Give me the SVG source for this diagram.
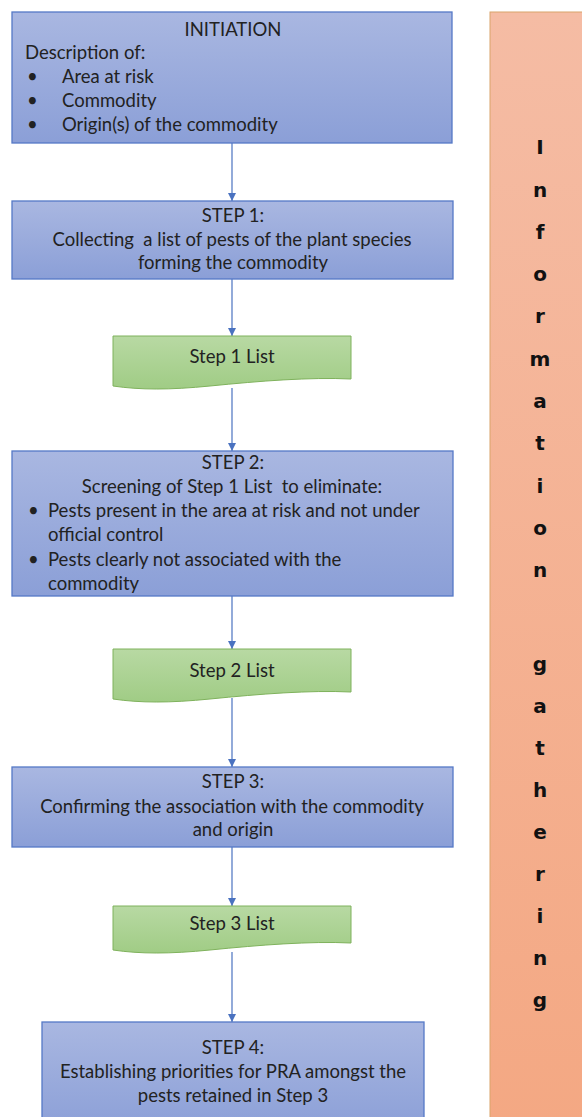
<svg xmlns="http://www.w3.org/2000/svg" width="582" height="1117" viewBox="0 0 582 1117">
<defs>
<linearGradient id="gBlue" x1="0" y1="0" x2="0" y2="1"><stop offset="0" stop-color="#a9b7e1"/><stop offset="1" stop-color="#8b9fd7"/></linearGradient>
<linearGradient id="gGreen" x1="0" y1="0" x2="0" y2="1"><stop offset="0" stop-color="#b8d9a3"/><stop offset="1" stop-color="#a0cc85"/></linearGradient>
<linearGradient id="gOrange" x1="0" y1="0" x2="0" y2="1"><stop offset="0" stop-color="#f5bca4"/><stop offset="1" stop-color="#f4a883"/></linearGradient>
<marker id="arr" viewBox="0 0 10 10" refX="10" refY="5" markerWidth="8" markerHeight="8" markerUnits="userSpaceOnUse" orient="auto"><path d="M0,0 L10,5 L0,10 Z" fill="#4a72c0"/></marker>
</defs>
<style>
.box{fill:url(#gBlue);stroke:#5579c6;stroke-width:1.3}
.doc{fill:url(#gGreen);stroke:#7fb25c;stroke-width:1}
.t{font-family:Lato,"Liberation Sans",sans-serif;font-size:18.5px;fill:#222}
.c{text-anchor:middle}
.v{font-family:"DejaVu Sans",sans-serif;font-weight:bold;font-size:20px;fill:#111;text-anchor:middle}
.con{stroke:#4a72c0;stroke-width:1.2;fill:none;marker-end:url(#arr)}
</style>
<rect width="582" height="1117" fill="#ffffff"/>
<g id="panel">
<rect x="490" y="12" width="100" height="1115" fill="url(#gOrange)" stroke="#d9a46a" stroke-width="1"/>
<text class="v" x="540" y="154">I</text>
<text class="v" x="540" y="197">n</text>
<text class="v" x="540" y="239">f</text>
<text class="v" x="540" y="281">o</text>
<text class="v" x="540" y="323">r</text>
<text class="v" x="540" y="366">m</text>
<text class="v" x="540" y="408">a</text>
<text class="v" x="540" y="450">t</text>
<text class="v" x="540" y="493">i</text>
<text class="v" x="540" y="535">o</text>
<text class="v" x="540" y="577">n</text>
<text class="v" x="540" y="671">g</text>
<text class="v" x="540" y="713">a</text>
<text class="v" x="540" y="755">t</text>
<text class="v" x="540" y="797">h</text>
<text class="v" x="540" y="839">e</text>
<text class="v" x="540" y="881">r</text>
<text class="v" x="540" y="923">i</text>
<text class="v" x="540" y="965">n</text>
<text class="v" x="540" y="1007">g</text>
</g>
<g id="connectors">
<line class="con" x1="232" y1="143" x2="232" y2="201"/>
<line class="con" x1="232" y1="279" x2="232" y2="336"/>
<line class="con" x1="232" y1="388" x2="232" y2="451"/>
<line class="con" x1="232" y1="596" x2="232" y2="649"/>
<line class="con" x1="232" y1="698" x2="232" y2="767"/>
<line class="con" x1="232" y1="847" x2="232" y2="906"/>
<line class="con" x1="232" y1="952" x2="232" y2="1022"/>
</g>
<g id="initiation">
<rect class="box" x="12" y="12" width="440" height="131"/>
<text class="t c" x="233" y="36">INITIATION</text>
<text class="t" x="25" y="59">Description of:</text>
<text class="t" x="27" y="83">•</text><text class="t" x="62" y="83">Area at risk</text>
<text class="t" x="27" y="107">•</text><text class="t" x="62" y="107">Commodity</text>
<text class="t" x="27" y="131">•</text><text class="t" x="62" y="131">Origin(s) of the commodity</text>
</g>
<g id="step1">
<rect class="box" x="12" y="201" width="441" height="78"/>
<text class="t c" x="233" y="222">STEP 1:</text>
<text class="t c" x="232" y="246" xml:space="preserve">Collecting  a list of pests of the plant species</text>
<text class="t c" x="233" y="269">forming the commodity</text>
</g>
<g id="step1list">
<path class="doc" d="M113,336 H351 V379 C310,377 260,381 210,386 C170,390 140,390 113,386 Z"/>
<text class="t c" x="232" y="363">Step 1 List</text>
</g>
<g id="step2">
<rect class="box" x="12" y="451" width="441" height="145"/>
<text class="t c" x="233" y="469">STEP 2:</text>
<text class="t c" x="232" y="493" xml:space="preserve">Screening of Step 1 List  to eliminate:</text>
<text class="t" x="28" y="517">•</text><text class="t" x="48" y="517">Pests present in the area at risk and not under</text>
<text class="t" x="48" y="541">official control</text>
<text class="t" x="28" y="566">•</text><text class="t" x="48" y="566">Pests clearly not associated with the</text>
<text class="t" x="48" y="590">commodity</text>
</g>
<g id="step2list">
<path class="doc" d="M113,649 H351 V692 C310,690 260,694 210,699 C170,703 140,703 113,699 Z"/>
<text class="t c" x="232" y="677">Step 2 List</text>
</g>
<g id="step3">
<rect class="box" x="12" y="767" width="441" height="80"/>
<text class="t c" x="233" y="788">STEP 3:</text>
<text class="t c" x="232" y="813">Confirming the association with the commodity</text>
<text class="t c" x="233" y="836">and origin</text>
</g>
<g id="step3list">
<path class="doc" d="M113,906 H351 V943 C310,941 260,945 210,950 C170,954 140,954 113,950 Z"/>
<text class="t c" x="232" y="930">Step 3 List</text>
</g>
<g id="step4">
<rect class="box" x="42" y="1022" width="382" height="110"/>
<text class="t c" x="233" y="1054">STEP 4:</text>
<text class="t c" x="233" y="1078">Establishing priorities for PRA amongst the</text>
<text class="t c" x="233" y="1102">pests retained in Step 3</text>
</g>
</svg>
